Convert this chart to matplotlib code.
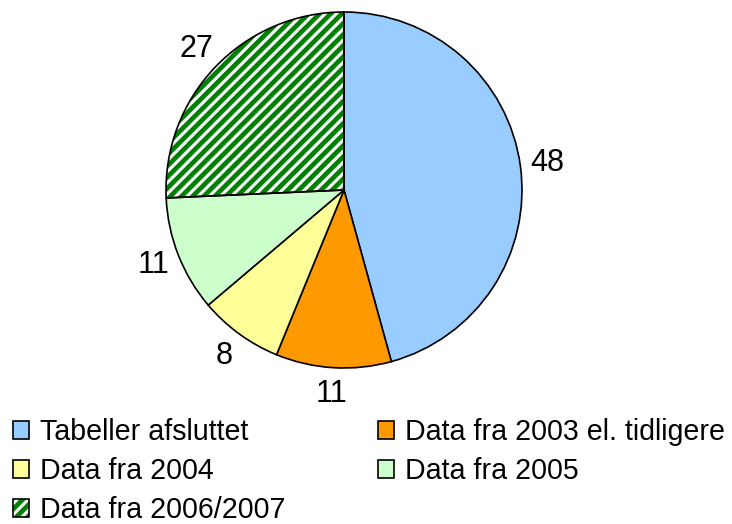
import matplotlib
matplotlib.use("Agg")
import matplotlib.pyplot as plt
from matplotlib.patches import Wedge, Rectangle
from matplotlib.legend_handler import HandlerTuple
import numpy as np

labels = ["Tabeller afsluttet", "Data fra 2003 el. tidligere", "Data fra 2004",
          "Data fra 2005", "Data fra 2006/2007"]
values = [48, 11, 8, 11, 27]
colors = ["#99CCFF", "#FF9900", "#FFFF99", "#CCFFCC", "#FFFFFF"]
hatches = [None, None, None, None, "//////"]
hatch_color = "#008000"

plt.rcParams['font.family'] = ['Liberation Sans', 'DejaVu Sans']
plt.rcParams['hatch.linewidth'] = 1.7

DPI = 200
fig = plt.figure(figsize=(732 / DPI, 524 / DPI), dpi=DPI)
W, H = 732, 524
cx, cy, r = 344, 190, 178
ax = fig.add_axes([(cx - r) / W, (H - cy - r) / H, 2 * r / W, 2 * r / H])

wedges, texts = ax.pie(values, colors=colors, startangle=90, counterclock=False,
                       wedgeprops=dict(edgecolor='black', linewidth=0.6))
handles = []
for w, h, c in zip(wedges, hatches, colors):
    if h:
        hw = Wedge(w.center, w.r, w.theta1, w.theta2, facecolor='white',
                   edgecolor=hatch_color, linewidth=0, hatch=h, zorder=w.get_zorder() - 0.1)
        ax.add_patch(hw)
        w.set_facecolor('none')
        w.set_zorder(w.get_zorder() + 0.1)
        hp = Rectangle((0, 0), 1, 1, facecolor='white', edgecolor=hatch_color,
                       linewidth=0, hatch=h)
        op = Rectangle((0, 0), 1, 1, facecolor='none', edgecolor='black', linewidth=0.6)
        handles.append((hp, op))
    else:
        handles.append(w)

for w, v in zip(wedges, values):
    ang = np.deg2rad((w.theta1 + w.theta2) / 2)
    ax.text(1.15 * np.cos(ang), 1.15 * np.sin(ang), str(v), ha='center', va='center',
            fontsize=11, color='black')
ax.set_xlim(-1, 1)
ax.set_ylim(-1, 1)
ax.set_aspect('equal')
ax.axis('off')

order = [0, 2, 4, 1, 3]
leg = fig.legend([handles[i] for i in order], [labels[i] for i in order],
                 handler_map={tuple: HandlerTuple(ndivide=1, pad=0)},
                 loc='upper left', bbox_to_anchor=(13 / W, 1 - 418 / H),
                 ncol=2, frameon=False, fontsize=10.3,
                 handlelength=0.56, handleheight=0.56, handletextpad=0.38,
                 labelspacing=0.39, columnspacing=3.25, borderpad=0, borderaxespad=0)

fig.savefig("out.png", dpi=DPI)
